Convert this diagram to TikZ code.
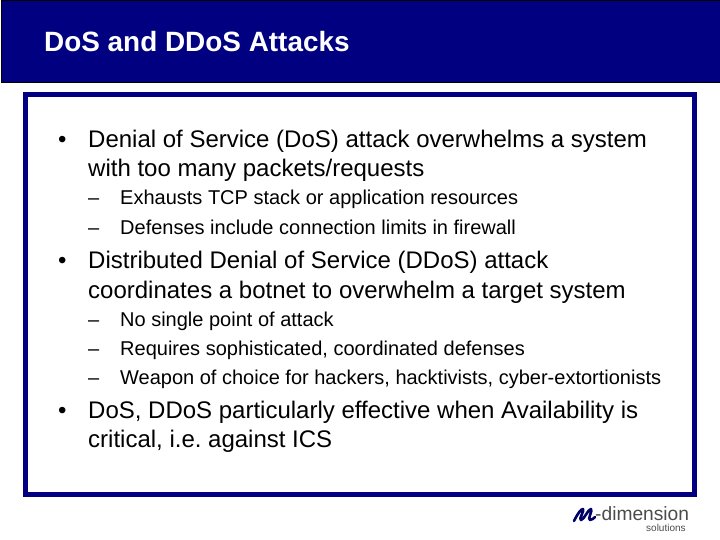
\documentclass[tikz,border=0pt]{standalone}
\usepackage{fontspec}
\setmainfont{Liberation Sans}
\definecolor{navy}{RGB}{0,0,128}
\frenchspacing
\tikzset{
 big/.style={anchor=base west,font=\fontsize{24pt}{26pt}\selectfont,inner sep=0pt,text=black},
 small/.style={anchor=base west,font=\fontsize{20pt}{22pt}\selectfont,inner sep=0pt,text=black},
}
\begin{document}
\begin{tikzpicture}[x=1pt,y=-1pt]
\useasboundingbox (0,0) rectangle (720,540);
\fill[white] (0,0) rectangle (720,540);
\node[draw=black,fill=navy,line width=0.8pt,minimum width=719pt,minimum height=82pt,anchor=north west,inner sep=0pt] (bar) at (0.5,0.5) {};
\node[anchor=base west,inner sep=0pt,text=white,font=\bfseries\fontsize{27.9pt}{30pt}\selectfont] (title) at (44,52) {DoS and DDoS Attacks};
\node[draw=navy,line width=5pt,fill=white,minimum width=669pt,minimum height=399.5pt,anchor=north west,inner sep=0pt] (frame) at (23,92) {};
\node[big] (b1) at (58,148) {•};
\node[big] (l1) at (88,148) {Denial of Service (DoS) attack overwhelms a system};
\node[big] (l1b) at (88,177) {with too many packets/requests};
\node[small] (d1) at (88,205) {–};
\node[small] (s1) at (120,205) {Exhausts TCP stack or application resources};
\node[small] (d2) at (88,234) {–};
\node[small] (s2) at (120,234) {Defenses include connection limits in firewall};
\node[big] (b2) at (58,268) {•};
\node[big] (l2) at (88,268) {Distributed Denial of Service (DDoS) attack};
\node[big] (l2b) at (88,298) {coordinates a botnet to overwhelm a target system};
\node[small] (d3) at (88,326) {–};
\node[small] (s3) at (120,326) {No single point of attack};
\node[small] (d4) at (88,355) {–};
\node[small] (s4) at (120,355) {Requires sophisticated, coordinated defenses};
\node[small] (d5) at (88,384) {–};
\node[small] (s5) at (120,384) {Weapon of choice for hackers, hacktivists, cyber-extortionists};
\node[big] (b3) at (58,418) {•};
\node[big] (l3) at (88,418) {DoS, DDoS particularly effective when Availability is};
\node[big] (l3b) at (88,447) {critical, i.e. against ICS};
\draw[navy!80!black,line width=2.6pt,line cap=round,line join=round] (574,521) .. controls (578,513) and (581,509) .. (583,509) .. controls (585,510) and (578,520) .. (581,520) .. controls (584,520) and (588,509) .. (591,509) .. controls (593,510) and (587,520) .. (590,520) .. controls (592,520) and (594,518) .. (595,517);
\node[anchor=base west,inner sep=0pt,text=black!70,font=\fontsize{19.2pt}{20pt}\selectfont] (logod) at (595,520.5) {-dimension};
\node[anchor=base west,inner sep=0pt,text=black!70,font=\fontsize{10pt}{11pt}\selectfont] (logos) at (646,531.5) {solutions};
\end{tikzpicture}
\end{document}
